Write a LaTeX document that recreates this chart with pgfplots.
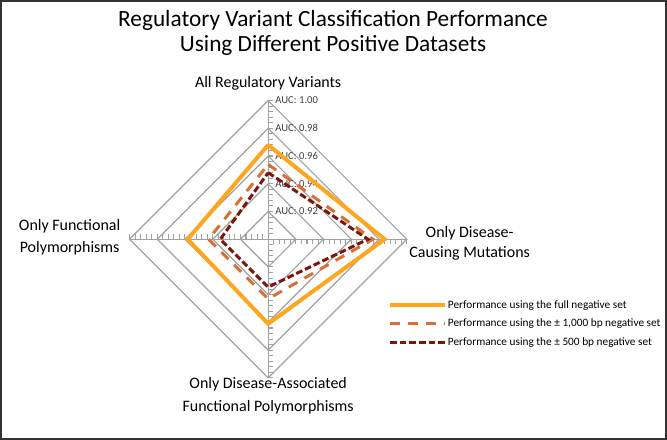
\documentclass[border=0pt]{standalone}
\usepackage{fontspec}
\setmainfont{Carlito}
\usepackage{pgfplots}
\usepackage{pgfplotstable}
\pgfplotsset{compat=1.18}

\definecolor{fullc}{RGB}{255,165,30}
\definecolor{kbc}{RGB}{215,112,52}
\definecolor{halfc}{RGB}{128,20,10}
\definecolor{gridc}{RGB}{160,160,160}

% AUC per axis: a = direction of the spoke (deg), v = AUC
\pgfplotstableread{
a v
90 0.968
0 0.984
270 0.961
180 0.958
90 0.968
}\fullset
\pgfplotstableread{
a v
90 0.954
0 0.9755
270 0.943
180 0.943
90 0.954
}\kbset
\pgfplotstableread{
a v
90 0.948
0 0.972
270 0.9345
180 0.9345
90 0.948
}\halfset

\begin{document}
\begin{tikzpicture}
\begin{axis}[
  width=500.25pt, height=329.25pt, scale only axis,
  xmin=-0.19281, xmax=0.28705, ymin=-0.14388, ymax=0.17194,
  xtick=\empty, ytick=\empty,
  axis line style={draw=black!80, line width=1.2pt},
  clip=false,
  legend style={at={(rel axis cs:0.5817,0.3200)}, anchor=north west,
    draw=none, fill=none, inner sep=0pt,
    font=\fontsize{8.5}{9}\selectfont, row sep=4.5pt,
    nodes={inner sep=1pt, text height=6pt, text depth=1.5pt},
    cells={anchor=west}},
  legend image code/.code={\draw[#1] plot coordinates {(0pt,0pt) (41pt,0pt)};},
]
% grid
\pgfplotsinvokeforeach{0.02,0.04,0.06,0.08,0.1}{
  \draw[gridc, line width=0.9pt] (axis cs:0,#1) -- (axis cs:#1,0) -- (axis cs:0,-#1) -- (axis cs:-#1,0) -- cycle;
}
\draw[gridc, line width=0.9pt] (axis cs:0,-0.1) -- (axis cs:0,0.1);
\draw[gridc, line width=0.9pt] (axis cs:-0.1,0) -- (axis cs:0.1,0);
\pgfplotsinvokeforeach{1,...,25}{
  \draw[gridc, line width=0.8pt] (axis cs:0,{#1*0.004}) -- (axis cs:0.0036,{#1*0.004});
  \draw[gridc, line width=0.8pt] (axis cs:0,{-#1*0.004}) -- (axis cs:0.0036,{-#1*0.004});
  \draw[gridc, line width=0.8pt] (axis cs:{#1*0.004},0) -- (axis cs:{#1*0.004},-0.0036);
  \draw[gridc, line width=0.8pt] (axis cs:{-#1*0.004},0) -- (axis cs:{-#1*0.004},0.0036);
}
% radial labels
\pgfplotsinvokeforeach{0.92,0.94,0.96,0.98,1.00}{
  \node[anchor=west, inner sep=0pt, text=black!75, font=\fontsize{8}{9}\selectfont] at (axis cs:0.005,{#1-0.9}) {AUC: #1};
}
% series
\addplot[fullc, line width=3pt] table[x expr={(\thisrow{v}-0.9)*cos(\thisrow{a})}, y expr={(\thisrow{v}-0.9)*sin(\thisrow{a})}] {\fullset};
\addlegendentry{Performance using the full negative set}
\addplot[kbc, line width=2.25pt, dash pattern=on 7.5pt off 6pt] table[x expr={(\thisrow{v}-0.9)*cos(\thisrow{a})}, y expr={(\thisrow{v}-0.9)*sin(\thisrow{a})}] {\kbset};
\addlegendentry{Performance using the ± 1,000 bp negative set}
\addplot[halfc, line width=2.25pt, dash pattern=on 5pt off 2.25pt] table[x expr={(\thisrow{v}-0.9)*cos(\thisrow{a})}, y expr={(\thisrow{v}-0.9)*sin(\thisrow{a})}] {\halfset};
\addlegendentry{Performance using the ± 500 bp negative set}
% titles and axis names
\node[align=center, font=\fontsize{17.5}{18.75}\selectfont] at (rel axis cs:0.4993,0.9271) {Regulatory Variant Classification Performance\\Using Different Positive Datasets};
\node[font=\fontsize{12}{14}\selectfont] at (rel axis cs:0.4018,0.8109) {All Regulatory Variants};
\node[align=center, font=\fontsize{12}{15}\selectfont] at (rel axis cs:0.7046,0.4465) {Only Disease-\\Causing Mutations};
\node[align=center, font=\fontsize{12}{16.5}\selectfont] at (rel axis cs:0.1034,0.4601) {Only Functional\\Polymorphisms};
\node[align=center, font=\fontsize{12}{17}\selectfont] at (rel axis cs:0.4018,0.0980) {Only Disease-Associated\\Functional Polymorphisms};
\end{axis}
\end{tikzpicture}
\end{document}
